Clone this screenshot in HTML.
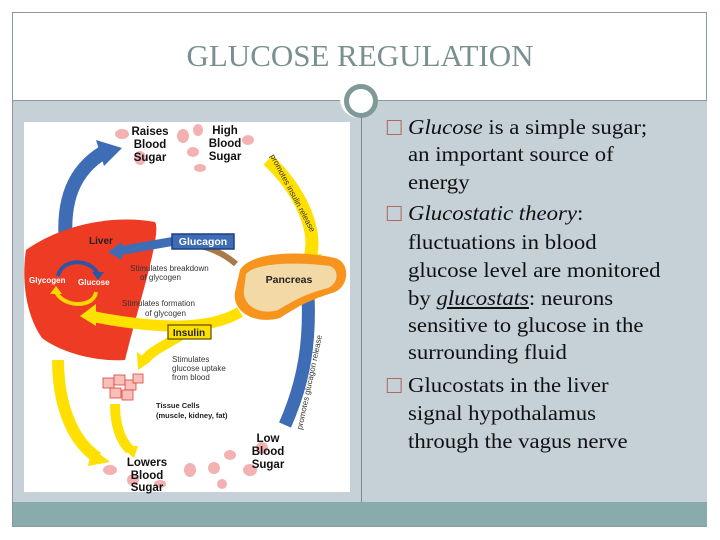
<!DOCTYPE html>
<html><head><style>
html,body{margin:0;padding:0;width:720px;height:540px;background:#fff;overflow:hidden}
.frame{position:absolute;left:12px;top:12px;width:695px;height:515px;border:1px solid #8a9a9a;box-sizing:border-box}
.title{position:absolute;left:0;top:38px;width:720px;text-align:center;font-family:"Liberation Serif",serif;font-size:31px;color:#7a9090}
.hline{position:absolute;left:13px;top:100px;width:694px;height:1px;background:#8a9a9a}
.content{position:absolute;left:13px;top:101px;width:694px;height:401px;background:#c5d0d7}
.vline{position:absolute;left:361px;top:101px;width:1px;height:401px;background:#7d8a90}
.footer{position:absolute;left:13px;top:502px;width:694px;height:24px;background:#8aabab}
.circ{position:absolute;left:340px;top:80px;width:38px;height:38px;border-radius:50%;background:#fff;}
.circ:after{content:"";position:absolute;left:4px;top:4px;width:24px;height:24px;border:5px solid #7f9898;border-radius:50%}
.l{position:absolute;left:408px;font-family:"Liberation Serif",serif;font-size:21.5px;line-height:24px;color:#111;white-space:nowrap;transform:scaleX(1.06);transform-origin:0 0}
.b{position:absolute;left:-20px;top:5px;width:12px;height:13px;border:1.5px solid #b06a5a}
svg{position:absolute;left:0;top:0}
</style></head><body>
<div class="frame"></div>
<div class="title">GLUCOSE REGULATION</div>
<div class="hline"></div>
<div class="content"></div>
<div class="vline"></div>
<div class="footer"></div>
<div class="circ"></div>
<div class="l" style="top:115px"><span class="b"></span><i>Glucose</i> is a simple sugar;</div>
<div class="l" style="top:142px">an important source of</div>
<div class="l" style="top:170px">energy</div>
<div class="l" style="top:201px"><span class="b"></span><i>Glucostatic theory</i>:</div>
<div class="l" style="top:230px">fluctuations in blood</div>
<div class="l" style="top:258px">glucose level are monitored</div>
<div class="l" style="top:286px">by <u><i>glucostats</i></u>: neurons</div>
<div class="l" style="top:313px">sensitive to glucose in the</div>
<div class="l" style="top:340px">surrounding fluid</div>
<div class="l" style="top:373px"><span class="b"></span>Glucostats in the liver</div>
<div class="l" style="top:401px">signal hypothalamus</div>
<div class="l" style="top:429px">through the vagus nerve</div>
<svg width="720" height="540" font-family="Liberation Sans,sans-serif">
<rect x="24" y="122" width="326" height="370" fill="#fff"/>
<g fill="#f2a4a4" opacity="0.85">
<ellipse cx="122" cy="134" rx="7" ry="5"/><ellipse cx="140" cy="158" rx="6" ry="7"/><ellipse cx="183" cy="136" rx="6" ry="7"/><ellipse cx="193" cy="152" rx="6" ry="5"/><ellipse cx="198" cy="130" rx="5" ry="6"/><ellipse cx="248" cy="140" rx="6" ry="5"/><ellipse cx="100" cy="156" rx="5" ry="4"/><ellipse cx="200" cy="168" rx="6" ry="4"/>
<ellipse cx="110" cy="470" rx="7" ry="5"/><ellipse cx="133" cy="480" rx="6" ry="6"/><ellipse cx="190" cy="470" rx="6" ry="7"/><ellipse cx="214" cy="468" rx="6" ry="6"/><ellipse cx="230" cy="455" rx="6" ry="5"/><ellipse cx="250" cy="470" rx="7" ry="6"/><ellipse cx="262" cy="448" rx="6" ry="6"/><ellipse cx="160" cy="484" rx="6" ry="4"/><ellipse cx="222" cy="484" rx="5" ry="5"/>
</g>
<path d="M66 244 C62 200 74 170 104 152" stroke="#3e6db5" stroke-width="14" fill="none"/>
<polygon points="96,140 122,148 104,166" fill="#3e6db5"/>
<path d="M26 250 C60 226 110 214 155 222 C162 232 140 300 125 360 C95 362 60 352 42 338 C24 312 22 275 26 250Z" fill="#ee3b24"/>
<path d="M58 276 C62 258 90 258 98 274" stroke="#2b56a8" stroke-width="4" fill="none"/><polygon points="92,272 104,272 98,280" fill="#2b56a8"/>
<path d="M96 292 C94 308 64 308 56 292" stroke="#ffd400" stroke-width="4" fill="none"/><polygon points="50,294 62,294 56,286" fill="#ffd400"/>
<text x="29" y="283" font-size="8" font-weight="bold" fill="#fff">Glycogen</text>
<text x="78" y="285" font-size="8" font-weight="bold" fill="#fff">Glucose</text>
<text x="89" y="244" font-size="10" font-weight="bold" fill="#222">Liver</text>
<path d="M268 160 C300 190 318 230 310 258" stroke="#ffe000" stroke-width="13" fill="none"/>
<polygon points="296,256 322,254 309,270" fill="#ffe000"/>
<path d="M58 360 C58 400 70 440 98 458" stroke="#ffe000" stroke-width="12" fill="none"/>
<polygon points="92,448 110,462 88,466" fill="#ffe000"/>
<path d="M115 404 C115 425 120 440 130 450" stroke="#ffe000" stroke-width="10" fill="none"/>
<polygon points="120,446 138,446 134,458" fill="#ffe000"/>
<path d="M240 312 C210 330 160 330 90 316" stroke="#ffe000" stroke-width="11" fill="none"/>
<polygon points="96,304 80,316 96,326" fill="#ffe000"/>
<path d="M180 336 C165 345 150 352 145 360" stroke="#ffe000" stroke-width="10" fill="none"/>
<polygon points="137,352 138,370 150,362" fill="#ffe000"/>
<path d="M285 425 C305 380 310 340 308 295" stroke="#3e6db5" stroke-width="13" fill="none"/>
<polygon points="296,296 310,282 320,296" fill="#3e6db5"/>
<path d="M236 264 C220 250 200 244 180 243" stroke="#a87a4a" stroke-width="6" fill="none"/>
<path d="M175 241 L118 251" stroke="#3e6db5" stroke-width="9"/>
<polygon points="122,242 108,252 122,260" fill="#3e6db5"/>
<rect x="172" y="234" width="62" height="15" fill="#3e6db5" stroke="#1e3e80" stroke-width="1.5"/>
<text x="203" y="245" font-size="10.5" font-weight="bold" fill="#fff" text-anchor="middle">Glucagon</text>
<path d="M240 270 C250 252 300 250 335 258 C350 262 350 285 335 292 C310 300 300 305 280 318 C255 325 232 312 235 292 Z" fill="#f7941d"/>
<path d="M246 274 C256 262 300 262 330 266 C340 270 338 284 328 288 C305 294 295 300 278 310 C258 316 242 304 244 290 Z" fill="#f3d9a6"/>
<text x="289" y="283" font-size="10.5" font-weight="bold" fill="#222" text-anchor="middle">Pancreas</text>
<rect x="168" y="325" width="43" height="14" fill="#ffe000" stroke="#5a4a00" stroke-width="1.2"/>
<text x="189" y="336" font-size="10" font-weight="bold" fill="#222" text-anchor="middle">Insulin</text>
<g fill="#f8c0b8" stroke="#e04040" stroke-width="0.8">
<rect x="103" y="378" width="11" height="10"/><rect x="114" y="375" width="11" height="10"/><rect x="125" y="380" width="11" height="10"/><rect x="110" y="388" width="11" height="10"/><rect x="122" y="390" width="11" height="10"/><rect x="133" y="374" width="10" height="9"/>
</g>
<g font-size="8" fill="#333">
<text x="130" y="271">Stimulates breakdown</text><text x="140" y="280">of glycogen</text>
<text x="122" y="306">Stimulates formation</text><text x="145" y="316">of glycogen</text>
<text x="172" y="362">Stimulates</text><text x="172" y="371">glucose uptake</text><text x="172" y="380">from blood</text>
</g>
<text x="156" y="408" font-size="7.5" font-weight="bold" fill="#222">Tissue Cells</text>
<text x="156" y="418" font-size="7.5" font-weight="bold" fill="#222">(muscle, kidney, fat)</text>
<text x="270" y="156" font-size="8" fill="#333" transform="rotate(62 270 156)">promotes insulin release</text>
<text x="302" y="430" font-size="8" fill="#333" transform="rotate(-78 302 430)">promotes glucagon release</text>
<g font-size="11.5" font-weight="bold" fill="#111" text-anchor="middle">
<text x="150" y="135">Raises</text><text x="150" y="148">Blood</text><text x="150" y="161">Sugar</text>
<text x="225" y="134">High</text><text x="225" y="147">Blood</text><text x="225" y="160">Sugar</text>
<text x="268" y="442">Low</text><text x="268" y="455">Blood</text><text x="268" y="468">Sugar</text>
<text x="147" y="466">Lowers</text><text x="147" y="479">Blood</text><text x="147" y="491">Sugar</text>
</g>
</svg>
</body></html>
